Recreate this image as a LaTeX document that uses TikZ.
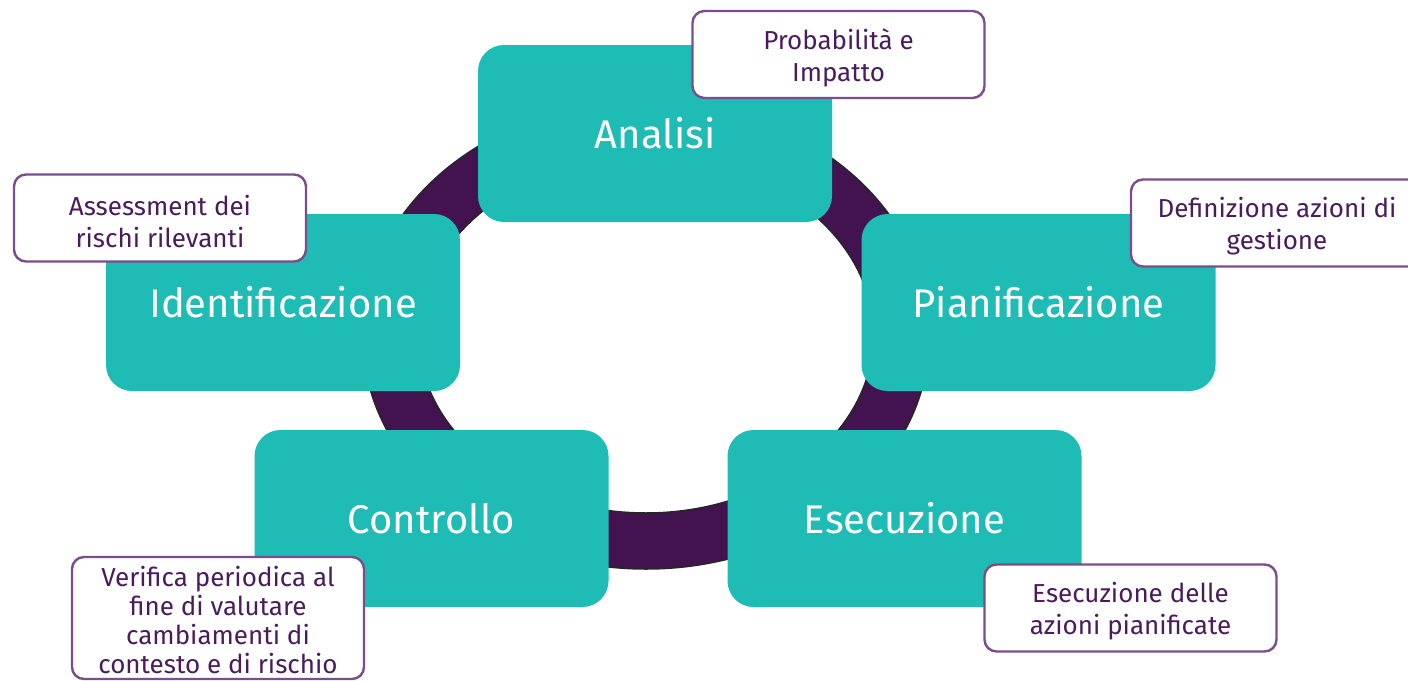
\documentclass[tikz,border=0pt]{standalone}
\usepackage{fontspec}
\setmainfont{Fira Sans}
\definecolor{teal1}{HTML}{1EBCB4}
\definecolor{ringc}{HTML}{43134F}
\definecolor{callb}{HTML}{7A4E8C}
\definecolor{callt}{HTML}{4A1C5C}
\newcommand{\lowfix}{\rule{0pt}{27pt}}
\tikzset{
  stepbox/.style={fill=teal1, rounded corners=26pt, minimum width=354pt, minimum height=177pt, inner sep=0pt, text=white, font=\fontsize{40}{48}\selectfont},
  callout/.style={fill=white, draw=callb, line width=2.4pt, rounded corners=12pt, minimum width=292pt, minimum height=87pt, inner sep=0pt, text=callt, align=center, font=\fontsize{26}{32}\selectfont},
}
\begin{document}
\begin{tikzpicture}[x=1pt,y=-1pt]
\useasboundingbox (0,0) rectangle (1408,680);
\clip (0,0) rectangle (1408,680);
% ring
\coordinate (rc) at (646,335);
\draw[fill=ringc, draw=black!85, line width=1.5pt, even odd rule]
  (rc) ellipse [x radius=283.5pt, y radius=234pt]
  (rc) ellipse [x radius=227.5pt, y radius=178pt];
% main boxes
\node[stepbox] (analisi) at (655,133.5) {Analisi};
\node[stepbox] (ident) at (283,302.5) {Identificazione};
\node[stepbox] (pian) at (1038.5,302.5) {Pianificazione};
\node[stepbox] (contr) at (431.5,518.5) {Controllo};
\node[stepbox] (esec) at (904.5,518.5) {Esecuzione};
% callouts
\node[callout] (c1) at (838.5,54.5) {\lowfix Probabilità e\\Impatto};
\node[callout] (c2) at (1277,223) {\lowfix Definizione azioni di\\gestione};
\node[callout] (c3) at (160,218) {\lowfix Assessment dei\\rischi rilevanti};
\node[callout, minimum height=122pt, font=\fontsize{26}{29}\selectfont] (c4) at (218,618) {\rule{0pt}{25pt}Verifica periodica al\\fine di valutare\\cambiamenti di\\contesto e di rischio};
\node[callout] (c5) at (1130.5,608) {\lowfix Esecuzione delle\\azioni pianificate};
\end{tikzpicture}
\end{document}
